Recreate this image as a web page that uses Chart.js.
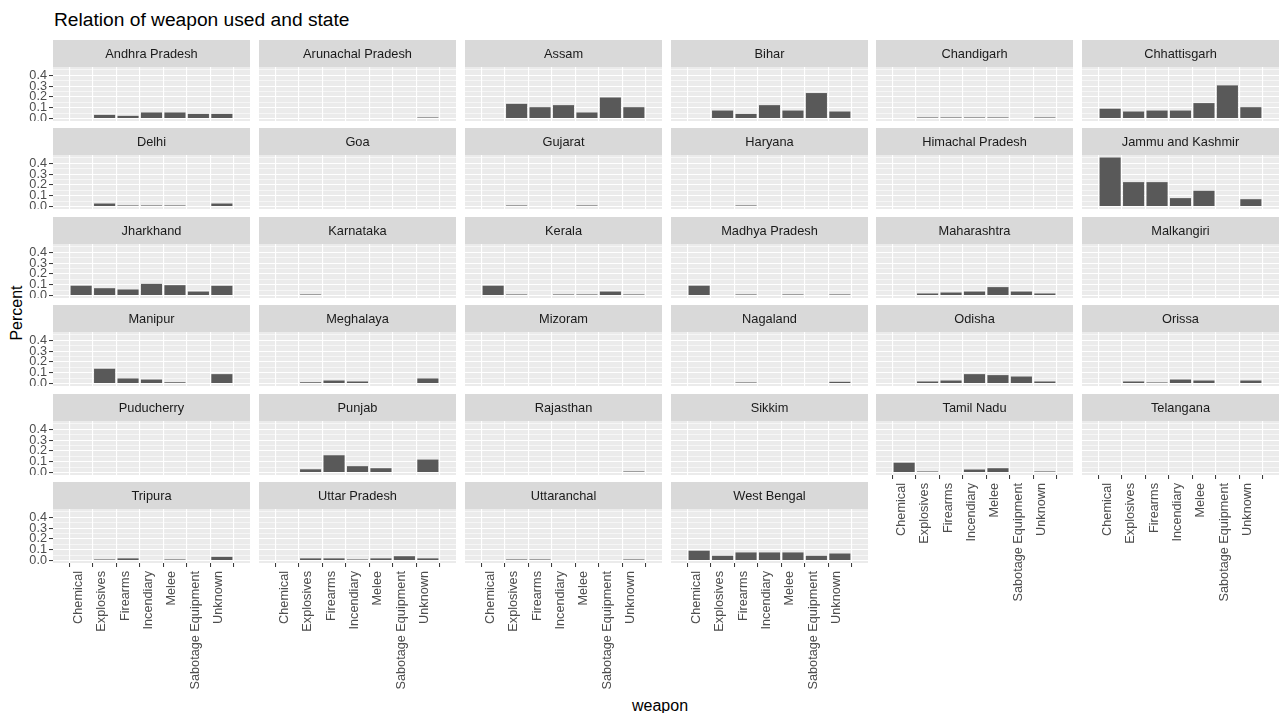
<!DOCTYPE html>
<html>
<head>
<meta charset="utf-8">
<script src="https://cdn.jsdelivr.net/npm/chart.js@4.4.0/dist/chart.umd.min.js"></script>
<style>
  html, body { margin: 0; padding: 0; background: #ffffff; }
  #wrap { position: relative; width: 1284px; height: 713px; overflow: hidden;
          font-family: "Liberation Sans", Arial, sans-serif; }
  #wrap canvas { position: absolute; }
  .title { position: absolute; left: 54px; top: 9px; font-size: 19.2px; color: #000; white-space: nowrap; line-height: 22px; }
  .ytitle { position: absolute; left: 17px; top: 313px; transform: translate(-50%, -50%) rotate(-90deg);
            font-size: 16px; color: #000; white-space: nowrap; }
  .xtitle { position: absolute; left: 660px; top: 706px; transform: translate(-50%, -50%);
            font-size: 16px; color: #000; white-space: nowrap; }
</style>
</head>
<body>
<div id="wrap">
  <div class="title">Relation of weapon used and state</div>
  <div class="ytitle">Percent</div>
  <div class="xtitle">weapon</div>
</div>
<script>
// Weapon categories (x axis of every panel)
const weapons = ['Chemical', 'Explosives', 'Firearms', 'Incendiary', 'Melee', 'Sabotage Equipment', 'Unknown'];

// Facet titles, in panel order
const states = [
  'Andhra Pradesh', 'Arunachal Pradesh', 'Assam', 'Bihar', 'Chandigarh', 'Chhattisgarh',
  'Delhi', 'Goa', 'Gujarat', 'Haryana', 'Himachal Pradesh', 'Jammu and Kashmir',
  'Jharkhand', 'Karnataka', 'Kerala', 'Madhya Pradesh', 'Maharashtra', 'Malkangiri',
  'Manipur', 'Meghalaya', 'Mizoram', 'Nagaland', 'Odisha', 'Orissa',
  'Puducherry', 'Punjab', 'Rajasthan', 'Sikkim', 'Tamil Nadu', 'Telangana',
  'Tripura', 'Uttar Pradesh', 'Uttaranchal', 'West Bengal'
];

// Share of each weapon's incidents that fall in the state (one value per weapon)
const andhraPradesh    = [0,      0.034, 0.025, 0.056, 0.056, 0.043, 0.043];
const arunachalPradesh = [0,      0,     0,     0,     0,     0,     0.01 ];
const assam            = [0,      0.136, 0.105, 0.124, 0.056, 0.195, 0.105];
const bihar            = [0,      0.074, 0.043, 0.124, 0.074, 0.236, 0.065];
const chandigarh       = [0,      0.01,  0.01,  0.01,  0.01,  0,     0.01 ];
const chhattisgarh     = [0.0909, 0.065, 0.074, 0.074, 0.143, 0.307, 0.105];
const delhi            = [0,      0.028, 0.01,  0.01,  0.01,  0,     0.028];
const goa              = [0,      0,     0,     0,     0,     0,     0    ];
const gujarat          = [0,      0.01,  0,     0,     0.01,  0,     0    ];
const haryana          = [0,      0,     0.01,  0,     0,     0,     0    ];
const himachalPradesh  = [0,      0,     0,     0,     0,     0,     0    ];
const jammuAndKashmir  = [0.4545, 0.226, 0.226, 0.078, 0.146, 0,     0.068];
const jharkhand        = [0.0909, 0.068, 0.056, 0.108, 0.096, 0.037, 0.09 ];
const karnataka        = [0,      0.01,  0,     0,     0,     0,     0    ];
const kerala           = [0.0909, 0.01,  0,     0.01,  0.01,  0.037, 0.01 ];
const madhyaPradesh    = [0.0909, 0,     0.01,  0,     0.01,  0,     0.01 ];
const maharashtra      = [0,      0.019, 0.028, 0.037, 0.078, 0.037, 0.019];
const malkangiri       = [0,      0,     0,     0,     0,     0,     0    ];
const manipur          = [0,      0.137, 0.047, 0.037, 0.012, 0,     0.087];
const meghalaya        = [0,      0.012, 0.028, 0.019, 0,     0,     0.047];
const mizoram          = [0,      0,     0,     0,     0,     0,     0    ];
const nagaland         = [0,      0,     0.01,  0,     0,     0,     0.016];
const odisha           = [0,      0.019, 0.028, 0.087, 0.078, 0.065, 0.019];
const orissa           = [0,      0.019, 0.01,  0.037, 0.028, 0,     0.028];
const puducherry       = [0,      0,     0,     0,     0,     0,     0    ];
const punjab           = [0,      0.03,  0.16,  0.059, 0.04,  0,     0.12 ];
const rajasthan        = [0,      0,     0,     0,     0,     0,     0.01 ];
const sikkim           = [0,      0,     0,     0,     0,     0,     0    ];
const tamilNadu        = [0.0909, 0.01,  0,     0.028, 0.04,  0,     0.01 ];
const telangana        = [0,      0,     0,     0,     0,     0,     0    ];
const tripura          = [0,      0.01,  0.02,  0,     0.01,  0,     0.034];
const uttarPradesh     = [0,      0.02,  0.02,  0.01,  0.02,  0.04,  0.02 ];
const uttaranchal      = [0,      0.01,  0.01,  0,     0,     0,     0.01 ];
const westBengal       = [0.0909, 0.044, 0.075, 0.075, 0.075, 0.044, 0.065];

const shares = [
  andhraPradesh, arunachalPradesh, assam, bihar, chandigarh, chhattisgarh,
  delhi, goa, gujarat, haryana, himachalPradesh, jammuAndKashmir,
  jharkhand, karnataka, kerala, madhyaPradesh, maharashtra, malkangiri,
  manipur, meghalaya, mizoram, nagaland, odisha, orissa,
  puducherry, punjab, rajasthan, sikkim, tamilNadu, telangana,
  tripura, uttarPradesh, uttaranchal, westBengal
];

// Shared y axis: labelled breaks and the minor lines between them
const yBreaks = [0, 0.1, 0.2, 0.3, 0.4];
const yMinorBreaks = [0.05, 0.15, 0.25, 0.35, 0.45];

// Facet grid geometry
const NCOL = 6;
const COL_X = [53, 259, 465, 671, 876, 1082];
const ROW_Y = [40, 128, 217, 305, 394, 482];
const PANEL_W = 197, STRIP_H = 27, PLOT_H = 54;
const Y_AXIS_W = 53, X_AXIS_H = 150;

// y range padded 5% beyond the largest bar, as in a ggplot continuous scale
const allValues = shares.flat();
const yTop = Math.max(...allValues);
const Y_MIN = -0.05 * yTop, Y_MAX = 1.05 * yTop;

const FONT = '"Liberation Sans", Arial, sans-serif';
const AXIS_FONT_SIZE = 12.7;
const isMajor = v => yBreaks.some(b => Math.abs(b - v) < 1e-9);

// Draws the grey strip with the facet title and the panel background
const panelDecor = {
  id: 'panelDecor',
  beforeDraw(chart, args, opts) {
    const { ctx, chartArea: a } = chart;
    ctx.save();
    ctx.fillStyle = '#D9D9D9';
    ctx.fillRect(a.left, 0, a.right - a.left, STRIP_H);
    ctx.fillStyle = '#EBEBEB';
    ctx.fillRect(a.left, a.top, a.right - a.left, a.bottom - a.top);
    ctx.fillStyle = '#1A1A1A';
    ctx.font = '12.8px ' + FONT;
    ctx.textAlign = 'center';
    ctx.textBaseline = 'middle';
    ctx.fillText(opts.label, (a.left + a.right) / 2, STRIP_H / 2 + 0.5);
    ctx.restore();
  }
};

const wrap = document.getElementById('wrap');

states.forEach((state, i) => {
  const row = Math.floor(i / NCOL), col = i % NCOL;
  const hasYAxis = col === 0;
  const hasXAxis = i + NCOL >= states.length;
  const w = PANEL_W + (hasYAxis ? Y_AXIS_W : 0);
  const h = STRIP_H + PLOT_H + (hasXAxis ? X_AXIS_H : 0);

  const canvas = document.createElement('canvas');
  canvas.width = w; canvas.height = h;
  canvas.style.width = w + 'px'; canvas.style.height = h + 'px';
  canvas.style.left = (COL_X[col] - (hasYAxis ? Y_AXIS_W : 0)) + 'px';
  canvas.style.top = ROW_Y[row] + 'px';
  wrap.appendChild(canvas);

  new Chart(canvas, {
    type: 'bar',
    data: {
      datasets: [{
        data: shares[i].map((v, k) => ({ x: k + 1, y: v })),
        backgroundColor: '#595959',
        borderWidth: 0,
        barPercentage: 0.9,
        categoryPercentage: 1.0
      }]
    },
    options: {
      responsive: false,
      animation: false,
      events: [],
      devicePixelRatio: 1,
      layout: { padding: { top: STRIP_H, left: 0, right: 0, bottom: 0 }, autoPadding: false },
      plugins: {
        legend: { display: false },
        tooltip: { enabled: false },
        panelDecor: { label: state }
      },
      scales: {
        x: {
          type: 'linear',
          min: 0.4, max: 7.6,
          afterBuildTicks: s => { s.ticks = weapons.map((_, k) => ({ value: k + 1 })); },
          afterFit: s => { s.height = hasXAxis ? X_AXIS_H : 0; s.paddingLeft = 0; s.paddingRight = 0; },
          border: { display: false },
          grid: { color: '#FFFFFF', lineWidth: 1.1, drawTicks: hasXAxis, tickLength: 4,
                  tickColor: '#333333', tickWidth: 1 },
          ticks: {
            display: hasXAxis, autoSkip: false, minRotation: 90, maxRotation: 90, padding: 4,
            labelOffset: -3,
            color: '#4D4D4D', font: { family: FONT, size: AXIS_FONT_SIZE },
            callback: v => weapons[Math.round(v) - 1]
          }
        },
        y: {
          type: 'linear',
          min: Y_MIN, max: Y_MAX,
          afterBuildTicks: s => {
            s.ticks = [...yBreaks, ...yMinorBreaks].sort((a, b) => a - b).map(v => ({ value: v }));
          },
          afterFit: s => { s.width = hasYAxis ? Y_AXIS_W : 0; s.paddingTop = 0; s.paddingBottom = 0; },
          border: { display: false },
          grid: {
            color: '#FFFFFF',
            lineWidth: c => (c.tick && isMajor(c.tick.value)) ? 1.1 : 0.55,
            drawTicks: hasYAxis, tickLength: 4, tickWidth: 1,
            tickColor: c => (c.tick && isMajor(c.tick.value)) ? '#333333' : 'rgba(0,0,0,0)'
          },
          ticks: {
            display: hasYAxis, autoSkip: false, padding: 2,
            color: '#4D4D4D', font: { family: FONT, size: AXIS_FONT_SIZE },
            callback: v => isMajor(v) ? v.toFixed(1) : ''
          }
        }
      }
    },
    plugins: [panelDecor]
  });
});
</script>
</body>
</html>
